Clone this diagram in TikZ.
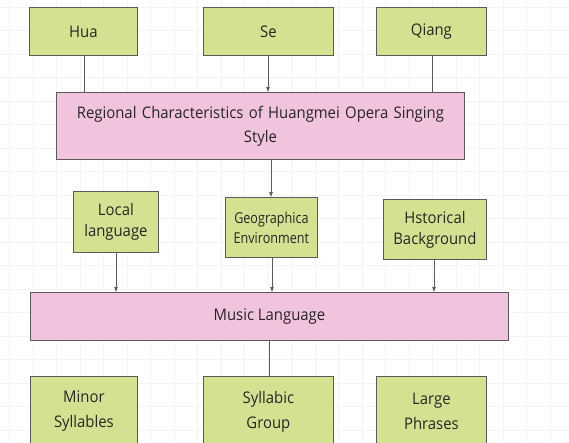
\documentclass[tikz,border=0pt]{standalone}
\usepackage{fontspec}
\setmainfont[FakeStretch=0.93]{Open Sans}
\newfontfamily\narrowfont[FakeStretch=0.84]{Open Sans}
\usetikzlibrary{arrows.meta}
\definecolor{gfill}{HTML}{D5E190}
\definecolor{pfill}{HTML}{F1C3DE}
\definecolor{edge}{HTML}{5A5A5A}
\definecolor{txt}{HTML}{262626}
\definecolor{gridc}{HTML}{F3F3F3}
\begin{document}
\begin{tikzpicture}[x=1pt,y=-1pt,
  box/.style={draw=edge,line width=0.8pt,anchor=north west,inner sep=0pt,text=txt,align=center,font=\fontsize{16}{21}\selectfont},
  gbox/.style={box,fill=gfill},
  pbox/.style={box,fill=pfill},
  conn/.style={draw=edge,line width=0.6pt},
  arr/.style={conn,-{Latex[length=5pt,width=4pt]}}]
\fill[white] (0,0) rectangle (569,442);
\useasboundingbox (0,0) rectangle (569,442);
\foreach \i in {0,...,24} {\draw[gridc,line width=0.5pt] (9.5+23.5*\i,0) -- (9.5+23.5*\i,442);}
\foreach \j in {0,...,19} {\draw[gridc,line width=0.5pt] (0,7+23.5*\j) -- (569,7+23.5*\j);}
% top row
\node[gbox,minimum width=108pt,minimum height=48pt] (hua) at (29,7) {Hua};
\node[gbox,minimum width=130pt,minimum height=48pt] (se) at (203,7) {Se};
\node[gbox,minimum width=110pt,minimum height=48pt] (qiang) at (376,7) {Qiang};
\node[pbox,minimum width=408pt,minimum height=67pt,text width=400pt,font=\fontsize{16}{24}\selectfont] (reg) at (56,92) {Regional Characteristics of Huangmei Opera Singing\\Style};
% middle row
\node[gbox,minimum width=85pt,minimum height=61pt,text width=85pt] (local) at (73,191) {Local\\language};
\node[gbox,minimum width=92pt,minimum height=60pt,text width=92pt,font=\narrowfont\fontsize{15}{20}\selectfont] (geo) at (225,197) {Geographica\\Environment};
\node[gbox,minimum width=103pt,minimum height=60pt,text width=103pt] (hist) at (383,199) {Hstorical\\Background};
\node[pbox,minimum width=478pt,minimum height=48pt] (music) at (30,292) {Music Language};
% bottom row
\node[gbox,minimum width=107pt,minimum height=70pt,text width=107pt,font=\fontsize{16}{25}\selectfont] (minor) at (30,376) {Minor\\Syllables};
\node[gbox,minimum width=130pt,minimum height=70pt,text width=130pt,font=\fontsize{16}{25}\selectfont] (syl) at (203,376) {Syllabic\\Group};
\node[gbox,minimum width=110pt,minimum height=70pt,text width=110pt,font=\fontsize{16}{25}\selectfont] (large) at (376,376) {Large\\Phrases};
% connectors
\draw[conn] (hua.south -| 84,0) -- (reg.north -| 84,0);
\draw[arr] (se.south -| 268,0) -- (reg.north -| 268,0);
\draw[conn] (qiang.south -| 432,0) -- (reg.north -| 432,0);
\draw[arr] (reg.south -| 271,0) -- (geo.north -| 271,0);
\draw[arr] (local.south -| 116,0) -- (music.north -| 116,0);
\draw[arr] (geo.south -| 272,0) -- (music.north -| 272,0);
\draw[arr] (hist.south -| 434,0) -- (music.north -| 434,0);
\draw[conn] (music.south -| 269,0) -- (syl.north -| 269,0);
\end{tikzpicture}
\end{document}
